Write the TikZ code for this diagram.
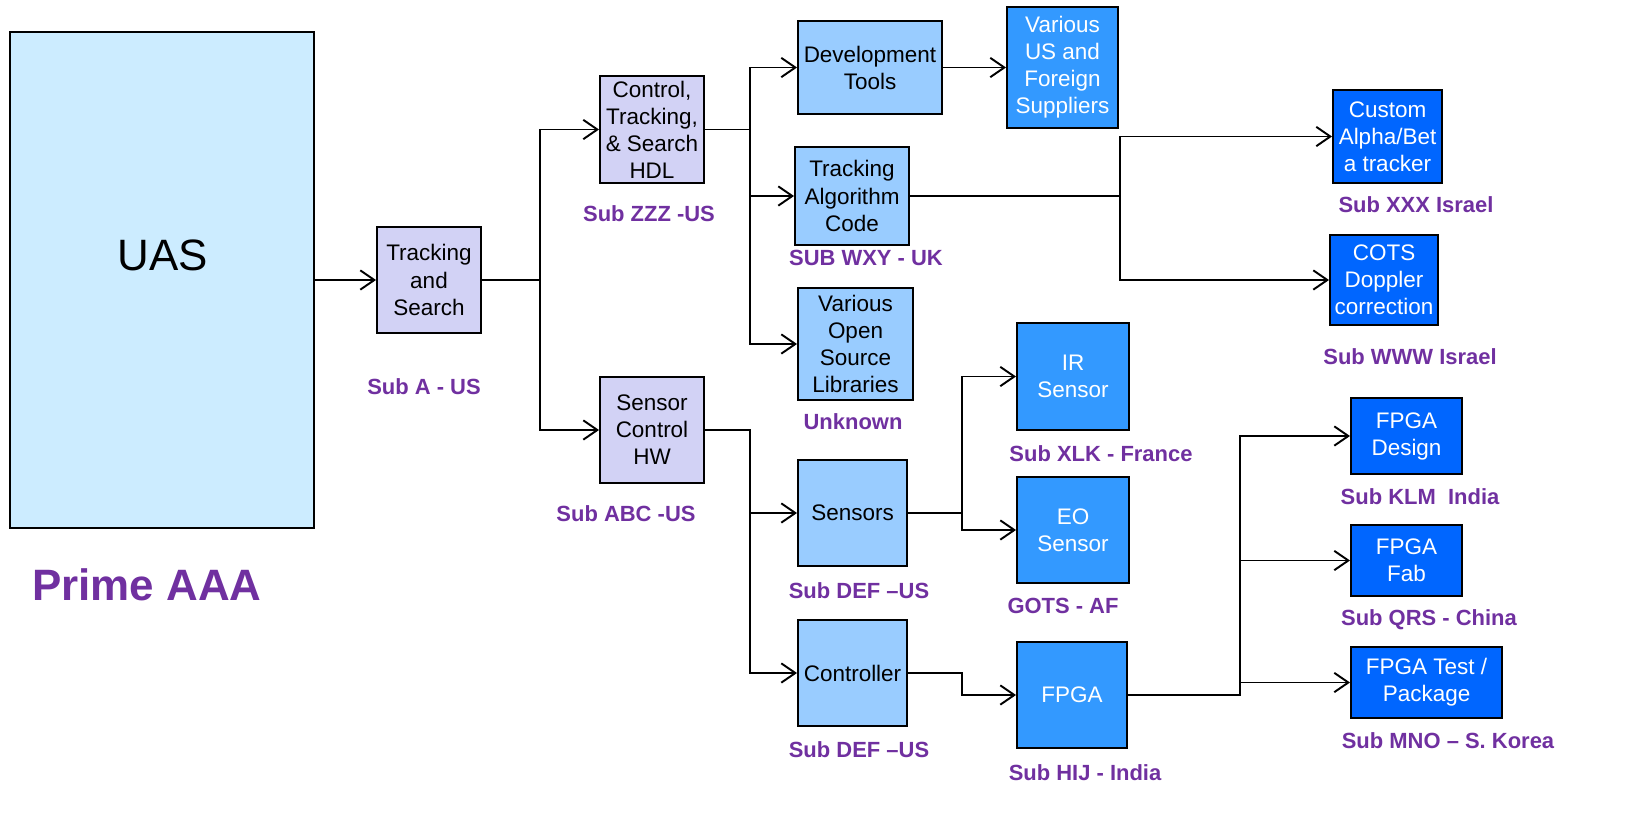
\documentclass[tikz,border=0pt]{standalone}
\usepackage{fontspec}
\setmainfont{Liberation Sans}
\usepackage{tikz}
\usetikzlibrary{arrows.meta}
\definecolor{subpurple}{HTML}{7030A0}
\definecolor{uasfill}{HTML}{CCECFF}
\definecolor{lavbox}{HTML}{D2D2F5}
\definecolor{lightbox}{HTML}{99CCFF}
\definecolor{midbox}{HTML}{3399FF}
\definecolor{darkbox}{HTML}{0066FF}
\newcommand\boxfont{\fontsize{12.8}{15.4}\selectfont}
\newcommand\subfont{\fontsize{12.5}{15}\selectfont\bfseries}

\begin{document}
\begin{tikzpicture}[x=0.02cm,y=-0.02cm,
	box/.style={draw=black,line width=1.1pt,align=center,inner sep=0pt,font=\boxfont},
	sz/.style 2 args={minimum width=#1*0.02cm,minimum height=#2*0.02cm},
	lvlone/.style={box,fill=lavbox},
	lvltwo/.style={box,fill=lightbox},
	lvlthree/.style={box,fill=midbox,text=white},
	lvlfour/.style={box,fill=darkbox,text=white},
	sub/.style={text=subpurple,font=\subfont},
	link/.style={line width=1.1pt},
	arr/.style={link,-{Straight Barb[length=8pt,width=11pt]}}]
		\useasboundingbox (0,0) rectangle (1643,829);
		
		% prime
		\node[box,fill=uasfill,sz={304}{496}] (uas) at (162,280) {};
		\node[font=\fontsize{25}{30}\selectfont] (uastext) at (163,255) {UAS};
		\node[sub,font=\fontsize{25}{30}\selectfont\bfseries] (prime) at (147,585) {Prime AAA};
		
		% first tier
		\node[lvlone,sz={104}{106}] (ts) at (429,280) {Tracking\\and\\Search};
		\node[sub] (subA) at (424,387) {Sub A - US};
		\node[lvlone,sz={104}{107}] (cts) at (652,129.5) {Control,\\Tracking,\\\& Search\\HDL};
		\node[sub] (subZZZ) at (649,214) {Sub ZZZ -US};
		\node[lvlone,sz={104}{106}] (sch) at (652,430) {Sensor\\Control\\HW};
		\node[sub] (subABC) at (626,514) {Sub ABC -US};
		
		% second tier
		\node[lvltwo,sz={144}{93}] (dev) at (870,67.5) {Development\\Tools};
		\node[lvltwo,sz={114}{98}] (tac) at (852,196) {Tracking\\Algorithm\\Code};
		\node[sub] (subWXY) at (866,258) {SUB WXY - UK};
		\node[lvltwo,sz={115}{112}] (vosl) at (855.5,344) {Various\\Open\\Source\\Libraries};
		\node[sub] (unknown) at (853,422) {Unknown};
		\node[lvltwo,sz={109}{106}] (sen) at (852.5,513) {Sensors};
		\node[sub] (subDEFa) at (859,591) {Sub DEF --US};
		\node[lvltwo,sz={109}{106}] (ctl) at (852.5,673) {Controller};
		\node[sub] (subDEFb) at (859,750) {Sub DEF --US};
		
		% third tier
		\node[lvlthree,sz={111}{121}] (vus) at (1062.5,67.5) {Various\\US and\\Foreign\\Suppliers};
		\node[lvlthree,sz={112}{107}] (ir) at (1073,376.5) {IR\\Sensor};
		\node[sub] (subXLK) at (1101,454) {Sub XLK - France};
		\node[lvlthree,sz={112}{106}] (eo) at (1073,530) {EO\\Sensor};
		\node[sub] (gots) at (1063,606) {GOTS - AF};
		\node[lvlthree,sz={110}{106}] (fpga) at (1072,695) {FPGA};
		\node[sub] (subHIJ) at (1085,773) {Sub HIJ - India};
		
		% fourth tier
		\node[lvlfour,sz={109}{93}] (cab) at (1387.5,136.5) {Custom\\Alpha/Bet\\a tracker};
		\node[sub] (subXXX) at (1416,205) {Sub XXX Israel};
		\node[lvlfour,sz={108}{90}] (cots) at (1384,280) {COTS\\Doppler\\correction};
		\node[sub] (subWWW) at (1410,357) {Sub WWW Israel};
		\node[lvlfour,sz={111}{76}] (fd) at (1406.5,436) {FPGA\\Design};
		\node[sub] (subKLM) at (1420,497) {Sub KLM\ \ India};
		\node[lvlfour,sz={111}{71}] (ff) at (1406.5,560.5) {FPGA\\Fab};
		\node[sub] (subQRS) at (1429,620) {Sub QRS - China};
		\node[lvlfour,sz={151}{71}] (ft) at (1426.5,682.5) {FPGA Test /\\Package};
		\node[sub] (subMNO) at (1448,741) {Sub MNO -- S. Korea};
		
		% bus points
		\coordinate (bts) at (540,280);
		\coordinate (bcts) at (750,129.5);
		\coordinate (bsch) at (750,430);
		\coordinate (btac) at (1120,196);
		\coordinate (bsen) at (962,513);
		\coordinate (bctl) at (962,673);
		\coordinate (bfpga) at (1240,695);
		
		\draw[arr] (uas.east |- ts.west) -- (ts.west);
		\draw[arr] (ts.east) -- (bts) |- (cts.west);
		\draw[arr] (bts) |- (sch.west);
		\draw[arr] (cts.east) -- (bcts) |- (dev.west);
		\draw[arr] (bcts) |- (tac.west);
		\draw[arr] (bcts) |- (vosl.west);
		\draw[arr] (dev.east) -- (vus.west);
		\draw[arr] (tac.east) -- (btac) |- (cab.west);
		\draw[arr] (btac) |- (cots.west);
		\draw[arr] (sch.east) -- (bsch) |- (sen.west);
		\draw[arr] (bsch) |- (ctl.west);
		\draw[arr] (sen.east) -- (bsen) |- (ir.west);
		\draw[arr] (bsen) |- (eo.west);
		\draw[arr] (ctl.east) -- (bctl) |- (fpga.west);
		\draw[arr] (fpga.east) -- (bfpga) |- (fd.west);
		\draw[arr] (bfpga) |- (ff.west);
		\draw[arr] (bfpga) |- (ft.west);
\end{tikzpicture}
\end{document}
